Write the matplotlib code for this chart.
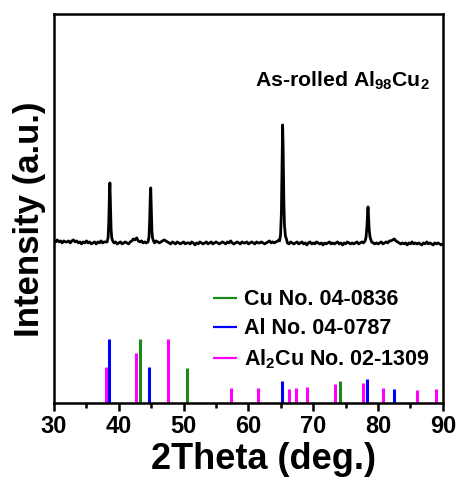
import numpy as np
import matplotlib
matplotlib.use("Agg")
import matplotlib.pyplot as plt

plt.rcParams['font.family'] = ['Liberation Sans', 'DejaVu Sans']
plt.rcParams['font.weight'] = 'bold'
plt.rcParams['mathtext.fontset'] = 'custom'
plt.rcParams['mathtext.bf'] = 'Liberation Sans:bold'
plt.rcParams['mathtext.rm'] = 'Liberation Sans:bold'
plt.rcParams['mathtext.default'] = 'bf'

# measured pattern: background scan, 30-90 deg in 0.25 deg steps (height above baseline)
scan_start, scan_step = 30.0, 0.25
background = [
    2, 1, 3, 1, 2, 0, 2, 1,
    1, 2, 0, 2, 3, 1, 2, 0,
    1, -1, 1, 0, 2, 0, 1, -1,
    0, 1, -1, 1, 0, 2, 0, 1,
    1, 0, 2, 0, 1, 0, 1, -1,
    0, 1, -1, 0, 1, 0, -1, 1,
    2, 4, 3, 5, 2, 1, 2, 0,
    1, 0, 0, 1, 2, 1, 0, 2,
    1, 0, 1, 2, 3, 2, 1, 0,
    -1, 1, 0, -1, 1, 0, -1, 0,
    1, -1, 0, 0, -1, 1, 0, -2,
    0, -1, 1, 0, -1, 0, 1, -1,
    0, 1, -1, 0, 1, 0, -1, 0,
    1, 0, -1, 1, 0, 2, 0, -1,
    0, 1, 0, -1, 1, 0, 0, 1,
    -1, 0, 1, 0, -1, 1, 0, 0,
    1, 0, -1, 0, 1, 2, 0, 1,
    0, 1, 2, 3, 1, 0, -1, 0,
    0, -1, 1, 0, -1, 0, 1, -1,
    0, 1, -1, 0, -2, 0, 1, -1,
    0, -1, 1, 0, -1, 0, -2, 0,
    -1, 0, 1, -1, 0, -1, 0, 1,
    -1, 0, -2, 0, -1, 1, 0, -1,
    0, -1, 0, 1, -1, 0, 1, 0,
    0, 1, 0, 2, 1, 0, -1, 0,
    -1, 0, 1, -1, 0, 1, 0, 2,
    2, 3, 4, 2, 1, 0, -1, 0,
    -1, 0, -2, 0, -1, 1, -1, 0,
    -1, 0, -1, -2, 0, -1, 1, -1,
    0, -1, -2, 0, -1, 0, -1, -2,
    -1,
]

# diffraction peaks of the measured pattern (2theta, height)
peak_38_x = [38.2, 38.35, 38.45, 38.55, 38.62, 38.7, 38.8, 38.9, 39.05]
peak_38_y = [1, 6, 22, 50, 60, 40, 14, 5, 2]
peak_45_x = [44.5, 44.65, 44.75, 44.85, 44.92, 45.0, 45.1, 45.2, 45.35]
peak_45_y = [1, 6, 22, 46, 55, 36, 12, 5, 2]
peak_65_x = [64.8, 64.95, 65.08, 65.18, 65.27, 65.35, 65.45, 65.55, 65.7, 65.9]
peak_65_y = [2, 8, 30, 75, 118, 95, 45, 18, 7, 3]
peak_78_x = [78.0, 78.15, 78.28, 78.38, 78.45, 78.52, 78.62, 78.75, 78.95]
peak_78_y = [2, 6, 16, 30, 36, 28, 14, 6, 2]

# reference cards: positions and relative intensities
cu_pos = [43.3, 50.5, 74.2]
cu_int = [100, 55, 34]
al_pos = [38.5, 44.7, 65.2, 78.3, 82.5]
al_int = [100, 56, 34, 37, 22]
al2cu_pos = [38.0, 42.6, 47.6, 57.3, 61.4, 66.3, 67.4, 69.0, 73.4, 77.6, 80.7, 86.0, 89.0]
al2cu_int = [56, 78, 100, 23, 23, 22, 23, 25, 30, 31, 23, 20, 22]

# assemble the scan
bg_x = scan_start + scan_step * np.arange(len(background))
bg_y = np.array(background, dtype=float)
peaks = [(peak_38_x, peak_38_y), (peak_45_x, peak_45_y),
         (peak_65_x, peak_65_y), (peak_78_x, peak_78_y)]
keep = np.ones(len(bg_x), bool)
for px, py in peaks:
    keep &= ~((bg_x >= px[0]) & (bg_x <= px[-1]))
xs = np.concatenate([bg_x[keep]] + [np.array(px) for px, py in peaks])
ys = np.concatenate([bg_y[keep]] + [np.array(py, float) for px, py in peaks])
order = np.argsort(xs)
xs, ys = xs[order], ys[order]

offset = 160      # vertical offset of the measured pattern
stick_scale = 0.64

fig = plt.figure(figsize=(4.58, 4.78), dpi=100)
ax = fig.add_axes([0.118, 0.157, 0.849, 0.814])

ax.plot(xs, ys + offset, color='black', lw=2.0)

ax.vlines(cu_pos, 0, np.array(cu_int) * stick_scale, color='#1a8a1a', lw=2.2,
          label='Cu No. 04-0836')
ax.vlines(al_pos, 0, np.array(al_int) * stick_scale, color='#0000ff', lw=2.2,
          label='Al No. 04-0787')
ax.vlines(al2cu_pos, 0, np.array(al2cu_int) * stick_scale, color='#ff00ff', lw=2.2,
          label='Al$_{2}$Cu No. 02-1309')

ax.set_xlim(30, 90)
ax.set_ylim(0, 389)
ax.set_yticks([])
ax.set_xticks(np.arange(30, 91, 10))
ax.set_xticks(np.arange(35, 90, 10), minor=True)
ax.tick_params(axis='x', which='major', direction='out', length=6, width=1.8,
               labelsize=17, pad=3)
ax.tick_params(axis='x', which='minor', direction='out', length=3.5, width=1.8)
for s in ax.spines.values():
    s.set_linewidth(1.8)

ax.set_xlabel('2Theta (deg.)', fontsize=26, fontweight='bold')
ax.xaxis.set_label_coords(0.539, -0.1, transform=ax.transAxes)
ax.xaxis.label.set_va('top')
ax.set_ylabel('Intensity (a.u.)', fontsize=25, fontweight='bold')
ax.yaxis.set_label_coords(-0.02, 0.473, transform=ax.transAxes)

ax.text(0.967, 0.827, 'As-rolled Al$_{98}$Cu$_{2}$', transform=ax.transAxes,
        ha='right', va='center', fontsize=15.3, fontweight='bold')

leg = ax.legend(loc='upper left', bbox_to_anchor=(0.41, 0.292), frameon=False,
                fontsize=15.5, handlelength=1.1, handletextpad=0.3,
                labelspacing=0.37, borderpad=0, borderaxespad=0)
for h in leg.get_lines():
    h.set_linewidth(1.6)

fig.savefig('out.png', dpi=100)
